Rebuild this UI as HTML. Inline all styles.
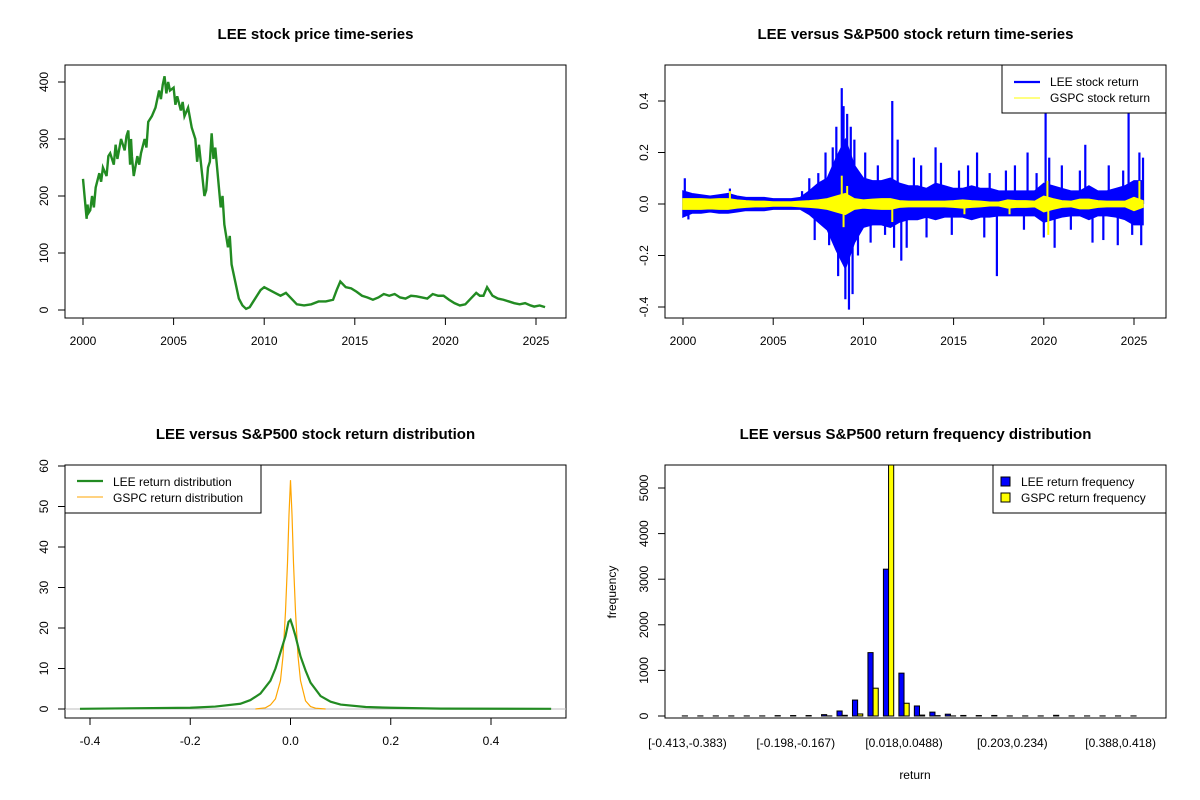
<!DOCTYPE html>
<html><head><meta charset="utf-8"><style>
body{margin:0;background:#fff}
svg{display:block;font-family:"Liberation Sans",Arial,sans-serif}
</style></head><body>
<svg id="chart" width="1200" height="800" viewBox="0 0 1200 800"></svg>
<script>
// ---- Panel 1: price ----
const priceYears=[2000,2000.1,2000.2,2000.25,2000.3,2000.4,2000.5,2000.6,2000.7,2000.9,2001.0,2001.1,2001.3,2001.4,2001.5,2001.7,2001.8,2001.9,2002.1,2002.3,2002.4,2002.5,2002.6,2002.65,2002.7,2002.8,2003.0,2003.1,2003.2,2003.4,2003.5,2003.6,2003.8,2004.0,2004.2,2004.3,2004.4,2004.5,2004.6,2004.7,2004.8,2005.0,2005.1,2005.2,2005.4,2005.5,2005.6,2005.8,2006.0,2006.2,2006.3,2006.4,2006.5,2006.6,2006.7,2006.8,2006.9,2007.0,2007.1,2007.2,2007.3,2007.4,2007.6,2007.7,2007.8,2008.0,2008.1,2008.2,2008.4,2008.6,2008.8,2009.0,2009.2,2009.4,2009.6,2009.8,2010.0,2010.3,2010.6,2010.9,2011.2,2011.5,2011.8,2012.2,2012.6,2013.0,2013.4,2013.8,2014.0,2014.2,2014.5,2014.8,2015.1,2015.4,2015.7,2016.0,2016.3,2016.6,2016.9,2017.2,2017.5,2017.8,2018.1,2018.4,2018.7,2019.0,2019.3,2019.6,2019.9,2020.2,2020.5,2020.8,2021.1,2021.4,2021.7,2021.9,2022.1,2022.3,2022.6,2022.9,2023.2,2023.5,2023.8,2024.1,2024.4,2024.7,2024.9,2025.2,2025.5];
const priceVals=[230,195,160,185,170,175,200,180,215,240,225,250,235,270,275,255,290,265,300,280,305,315,255,300,270,235,270,255,275,300,285,330,340,355,385,370,395,410,380,400,385,390,360,375,350,365,340,355,320,300,260,290,260,230,200,210,250,260,310,265,285,250,180,200,150,110,130,80,50,20,8,2,5,15,25,35,40,35,30,25,30,20,10,8,10,15,15,18,35,50,40,38,32,25,22,18,22,28,25,28,22,20,25,24,22,20,28,25,25,18,12,8,10,20,30,25,25,40,25,20,18,15,12,10,12,8,6,8,5];
const priceTicks=[0,100,200,300,400];
const yearTicks=[2000,2005,2010,2015,2020,2025];
// ---- Panel 2: returns (envelopes per half-year + spikes) ----
const retYears=[2000,2000.5,2001,2001.5,2002,2002.5,2003,2003.5,2004,2004.5,2005,2005.5,2006,2006.5,2007,2007.5,2008,2008.5,2009,2009.5,2010,2010.5,2011,2011.5,2012,2012.5,2013,2013.5,2014,2014.5,2015,2015.5,2016,2016.5,2017,2017.5,2018,2018.5,2019,2019.5,2020,2020.5,2021,2021.5,2022,2022.5,2023,2023.5,2024,2024.5,2025,2025.5];
const leeHi=[0.05,0.04,0.035,0.03,0.035,0.04,0.03,0.025,0.025,0.025,0.02,0.02,0.02,0.025,0.05,0.08,0.1,0.18,0.25,0.15,0.1,0.09,0.09,0.1,0.08,0.07,0.07,0.06,0.08,0.07,0.06,0.06,0.07,0.06,0.06,0.05,0.05,0.05,0.05,0.05,0.08,0.07,0.06,0.05,0.05,0.07,0.05,0.05,0.06,0.07,0.09,0.09];
const leeLo=[-0.05,-0.035,-0.035,-0.03,-0.035,-0.035,-0.03,-0.025,-0.025,-0.025,-0.02,-0.02,-0.02,-0.02,-0.04,-0.07,-0.1,-0.18,-0.25,-0.15,-0.09,-0.08,-0.08,-0.09,-0.07,-0.06,-0.06,-0.05,-0.06,-0.05,-0.05,-0.05,-0.06,-0.05,-0.05,-0.045,-0.045,-0.045,-0.045,-0.045,-0.07,-0.06,-0.05,-0.045,-0.045,-0.06,-0.045,-0.045,-0.05,-0.06,-0.08,-0.08];
const gspcHi=[0.02,0.02,0.02,0.018,0.02,0.02,0.015,0.012,0.01,0.01,0.008,0.008,0.008,0.01,0.012,0.015,0.02,0.03,0.04,0.02,0.015,0.018,0.02,0.02,0.012,0.01,0.01,0.01,0.01,0.01,0.012,0.015,0.012,0.01,0.007,0.007,0.015,0.012,0.012,0.01,0.03,0.02,0.012,0.01,0.018,0.018,0.012,0.01,0.01,0.01,0.025,0.012];
const gspcLo=gspcHi.map(v=>-v);
const gspcSpikeYears=[2008.8,2008.9,2009.1,2011.6,2020.2,2020.25,2025.3,2002.6,2015.6,2018.1];
const gspcSpikeVals=[0.11,-0.09,0.07,-0.07,0.09,-0.12,0.09,0.05,-0.04,-0.04];
const spikeYears=[2000.1,2000.3,2002.6,2006.6,2007.0,2007.3,2007.5,2007.9,2008.1,2008.3,2008.5,2008.6,2008.8,2008.9,2009.0,2009.1,2009.2,2009.3,2009.4,2009.5,2009.7,2010.1,2010.4,2010.8,2011.2,2011.6,2011.7,2011.9,2012.1,2012.4,2012.8,2013.2,2013.5,2014.0,2014.3,2014.9,2015.3,2015.8,2016.3,2016.7,2017.0,2017.4,2017.9,2018.4,2018.9,2019.1,2019.6,2020.0,2020.1,2020.3,2020.6,2021.0,2021.5,2022.0,2022.3,2022.7,2023.3,2023.6,2024.1,2024.4,2024.7,2024.9,2025.3,2025.5,2025.4];
const spikeVals=[0.1,-0.06,0.06,0.05,0.1,-0.14,0.12,0.2,-0.16,0.22,0.3,-0.28,0.45,0.38,-0.37,0.35,-0.41,0.3,-0.35,0.25,-0.2,0.2,-0.15,0.15,-0.12,0.4,-0.17,0.25,-0.22,-0.17,0.18,0.15,-0.13,0.22,0.16,-0.12,0.13,0.15,0.2,-0.13,0.12,-0.28,0.13,0.15,-0.1,0.2,0.12,-0.13,0.37,0.18,-0.17,0.15,-0.1,0.13,0.23,-0.15,-0.14,0.15,-0.16,0.13,0.37,-0.12,0.2,0.18,-0.16];
const retTicks=[-0.4,-0.2,0,0.2,0.4];
// ---- Panel 3: densities ----
const leeDensX=[-0.42,-0.3,-0.2,-0.15,-0.1,-0.08,-0.06,-0.04,-0.03,-0.02,-0.01,-0.004,0,0.004,0.01,0.02,0.03,0.04,0.06,0.08,0.1,0.15,0.2,0.3,0.52];
const leeDensY=[0.05,0.2,0.3,0.6,1.3,2.2,3.8,7,10,14,18,21.5,22,20.5,18,13,9.5,6.5,3.2,1.8,1.1,0.5,0.3,0.1,0.05];
const gspcDensX=[-0.07,-0.05,-0.04,-0.03,-0.02,-0.015,-0.01,-0.006,-0.003,0,0.003,0.006,0.01,0.015,0.02,0.03,0.04,0.05,0.07];
const gspcDensY=[0,0.3,1,2.5,7,13,24,36,48,56.5,48,36,24,13,7,2,0.6,0.2,0];
const densXTicks=[-0.4,-0.2,0,0.2,0.4];
const densYTicks=[0,10,20,30,40,50,60];
// ---- Panel 4: histogram ----
const binLabels=["[-0.413,-0.383)","[-0.198,-0.167)","[0.018,0.0488)","[0.203,0.234)","[0.388,0.418)"];
const binLabelIdx=[0,7,14,21,28];
const leeFreq=[2,2,2,2,2,2,8,10,10,30,110,350,1390,3220,940,220,85,40,12,10,12,2,2,2,15,2,2,2,2,2];
const gspcFreq=[0,0,0,0,0,0,0,0,0,2,15,45,610,5600,280,20,8,2,0,0,0,0,0,0,0,0,0,0,0,0];
const freqTicks=[0,1000,2000,3000,4000,5000];

const svg=document.getElementById('chart');
const NS='http://www.w3.org/2000/svg';
function mk(tag,attrs,parent){const e=document.createElementNS(NS,tag);for(const k in attrs)e.setAttribute(k,attrs[k]);(parent||svg).appendChild(e);return e;}
function txt(s,x,y,attrs,parent){const t=mk('text',Object.assign({x:x,y:y,'font-size':12,fill:'#000','text-anchor':'middle'},attrs||{}),parent);t.textContent=s;return t;}
function grp(name){const g=mk('g',{});return g;}

function panel(name,x0,y0,x1,y1,title){
  const g=grp(name);
  const t=txt(title,(x0+x1)/2,y0-26,{'font-size':15,'font-weight':'bold'},g);
  
  
  return g;
}
function box(g,x0,y0,x1,y1){const r=mk('rect',{x:x0,y:y0,width:x1-x0,height:y1-y0,fill:'none',stroke:'#000','stroke-width':1},g);}
function xAxis(g,ticks,sx,yb,lab){const a=grp('x-axis');g.appendChild(a);
  mk('line',{x1:sx(ticks[0]),x2:sx(ticks[ticks.length-1]),y1:yb,y2:yb,stroke:'#000'},a);
  ticks.forEach(v=>{mk('line',{x1:sx(v),x2:sx(v),y1:yb,y2:yb+7,stroke:'#000'},a);txt(lab(v),sx(v),yb+27,{},a);});}
function yAxis(g,ticks,sy,xl,lab){const a=grp('y-axis');g.appendChild(a);
  mk('line',{x1:xl,x2:xl,y1:sy(ticks[0]),y2:sy(ticks[ticks.length-1]),stroke:'#000'},a);
  ticks.forEach(v=>{mk('line',{x1:xl-7,x2:xl,y1:sy(v),y2:sy(v),stroke:'#000'},a);const yy=sy(v);txt(lab(v),xl-17,yy,{transform:`rotate(-90 ${xl-17} ${yy})`},a);});}
const f1=v=>v.toFixed(1);

// Panel 1
{const g=panel('price-panel',65,65,566,318,'LEE stock price time-series');
 const sx=y=>83+(y-2000)*18.12, sy=v=>310-v*0.57;
 box(g,65,65,566,318);
 const p=mk('polyline',{points:priceYears.map((y,i)=>sx(y)+','+sy(priceVals[i])).join(' '),fill:'none',stroke:'#228b22','stroke-width':2.4,'stroke-linejoin':'miter'},g);
 
 xAxis(g,yearTicks,sx,318,String);yAxis(g,priceTicks,sy,65,String);}

// Panel 2
{const g=panel('returns-panel',665,65,1166,318,'LEE versus S&P500 stock return time-series');
 const sx=y=>683+(y-2000)*18.04, sy=v=>204-v*257.5;
 box(g,665,65,1166,318);
 const env=(hi,lo)=>retYears.map((y,i)=>sx(y)+','+sy(hi[i])).concat(retYears.map((y,i)=>sx(y)+','+sy(lo[i])).reverse()).join(' ');
 const le=mk('polygon',{points:env(leeHi,leeLo),fill:'#0000ff',stroke:'#0000ff','stroke-width':1.5},g);
 
 spikeYears.forEach((y,i)=>{const l=mk('line',{x1:sx(y),x2:sx(y),y1:sy(0),y2:sy(spikeVals[i]),stroke:'#0000ff','stroke-width':2.2},g);
  });
 const gs=mk('polygon',{points:env(gspcHi,gspcLo),fill:'#ffff00',stroke:'#ffff00','stroke-width':1.5},g);
 
 gspcSpikeYears.forEach((y,i)=>{const l=mk('line',{x1:sx(y),x2:sx(y),y1:sy(0),y2:sy(gspcSpikeVals[i]),stroke:'#ffff00','stroke-width':2},g);
  });
 xAxis(g,yearTicks,sx,318,String);yAxis(g,retTicks,sy,665,f1);
 const lg=grp('legend');g.appendChild(lg);
 mk('rect',{x:1002,y:65,width:164,height:48,fill:'#fff',stroke:'#000'},lg);
 mk('line',{x1:1014,x2:1040,y1:82,y2:82,stroke:'#0000ff','stroke-width':2.2},lg);
 mk('line',{x1:1014,x2:1040,y1:98,y2:98,stroke:'#ffff00','stroke-width':1},lg);
 txt('LEE stock return',1050,86,{'text-anchor':'start'},lg);txt('GSPC stock return',1050,102,{'text-anchor':'start'},lg);}

// Panel 3
{const g=panel('density-panel',65,465,566,718,'LEE versus S&P500 stock return distribution');
 const sx=v=>290.5+v*501.25, sy=v=>709-v*4.05;
 box(g,65,465,566,718);
 mk('line',{x1:65,x2:566,y1:sy(0),y2:sy(0),stroke:'#bebebe'},g);
 const gl=mk('polyline',{points:gspcDensX.map((x,i)=>sx(x)+','+sy(gspcDensY[i])).join(' '),fill:'none',stroke:'#ffa500','stroke-width':1.2},g);
 
 const ll=mk('polyline',{points:leeDensX.map((x,i)=>sx(x)+','+sy(leeDensY[i])).join(' '),fill:'none',stroke:'#228b22','stroke-width':2.2},g);
 
 xAxis(g,densXTicks,sx,718,f1);yAxis(g,densYTicks,sy,65,String);
 const lg=grp('legend');g.appendChild(lg);
 mk('rect',{x:65,y:465,width:196,height:48,fill:'#fff',stroke:'#000'},lg);
 mk('line',{x1:77,x2:103,y1:481,y2:481,stroke:'#228b22','stroke-width':2.2},lg);
 mk('line',{x1:77,x2:103,y1:497,y2:497,stroke:'#ffa500','stroke-width':1},lg);
 txt('LEE return distribution',113,486,{'text-anchor':'start'},lg);txt('GSPC return distribution',113,502,{'text-anchor':'start'},lg);}

// Panel 4
{const g=panel('histogram-panel',665,465,1166,718,'LEE versus S&P500 return frequency distribution');
 const sy=v=>716-Math.min(v,5504)*0.0456, gx=i=>682.3+i*15.47, bw=5.15;
 leeFreq.forEach((v,i)=>{const r=mk('rect',{x:gx(i),y:sy(v),width:bw,height:716-sy(v),fill:'#0000ff',stroke:'#000','stroke-width':1},g);
  });
 gspcFreq.forEach((v,i)=>{const r=mk('rect',{x:gx(i)+bw,y:sy(v),width:bw,height:716-sy(v),fill:'#ffff00',stroke:'#000','stroke-width':1},g);
  });
 box(g,665,465,1166,718);
 binLabelIdx.forEach((b,k)=>{const t=txt(binLabels[k],gx(b)+bw,747,{},g);});
 yAxis(g,freqTicks,sy,665,String);
 const xt=txt('return',915,779,{},g);
 const yt=txt('frequency',616,592,{transform:'rotate(-90 616 592)'},g);
 const lg=grp('legend');g.appendChild(lg);
 mk('rect',{x:993,y:465,width:173,height:48,fill:'#fff',stroke:'#000'},lg);
 mk('rect',{x:1001,y:477,width:9,height:9,fill:'#0000ff',stroke:'#000'},lg);
 mk('rect',{x:1001,y:493,width:9,height:9,fill:'#ffff00',stroke:'#000'},lg);
 txt('LEE return frequency',1021,486,{'text-anchor':'start'},lg);txt('GSPC return frequency',1021,502,{'text-anchor':'start'},lg);}
</script>
</body></html>
